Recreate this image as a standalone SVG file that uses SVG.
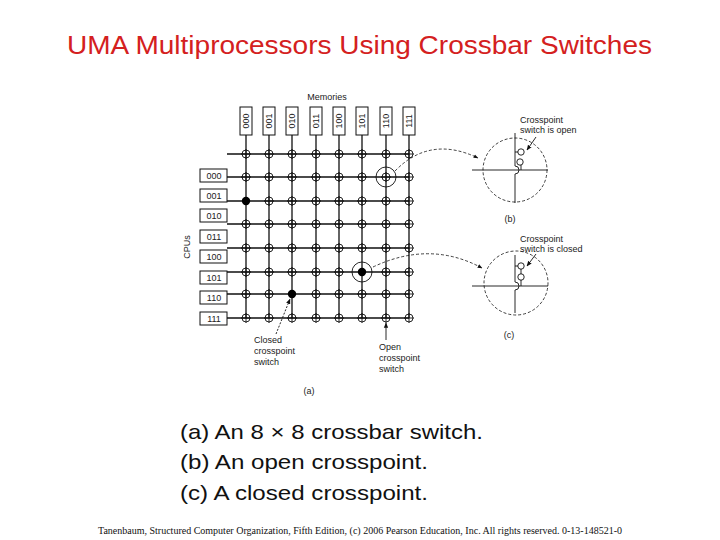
<svg xmlns="http://www.w3.org/2000/svg" width="720" height="540" viewBox="0 0 720 540">
<style>
.s{font-family:"Liberation Sans",Arial,sans-serif;font-size:9px;fill:#222}
.l{stroke:#111;stroke-width:1.3;fill:none}
.b{stroke:#111;stroke-width:1;fill:#fff}
.x{stroke:#111;stroke-width:0.9;fill:none}
.d{stroke:#111;stroke-width:0.8;fill:none;stroke-dasharray:3,2}
</style>
<defs>
<marker id="a" viewBox="0 0 10 10" refX="9" refY="5" markerWidth="6" markerHeight="6" orient="auto"><path d="M0,1L10,5L0,9z" fill="#111"/></marker>
<g id="cp"><circle r="4" class="x" fill="#fff"/><path d="M-5,0H5M0,-5V5" class="x"/></g>
</defs>
<rect width="720" height="540" fill="#fff"/>
<text x="67" y="54" textLength="585" lengthAdjust="spacingAndGlyphs" font-family="Liberation Sans,Arial,sans-serif" font-size="25" fill="#d42020">UMA Multiprocessors Using Crossbar Switches</text>
<g id="memories">
<text class="s" x="327" y="100" text-anchor="middle">Memories</text>
<g class="b">
<rect x="240" y="107" width="12" height="28"/><rect x="263" y="107" width="12" height="28"/><rect x="286" y="107" width="12" height="28"/><rect x="310" y="107" width="12" height="28"/><rect x="333" y="107" width="12" height="28"/><rect x="356" y="107" width="12" height="28"/><rect x="380" y="107" width="12" height="28"/><rect x="403" y="107" width="12" height="28"/>
</g>
<g class="s" text-anchor="middle">
<text transform="translate(249,121) rotate(-90)">000</text><text transform="translate(272,121) rotate(-90)">001</text><text transform="translate(295,121) rotate(-90)">010</text><text transform="translate(319,121) rotate(-90)">011</text><text transform="translate(342,121) rotate(-90)">100</text><text transform="translate(365,121) rotate(-90)">101</text><text transform="translate(389,121) rotate(-90)">110</text><text transform="translate(412,121) rotate(-90)">111</text>
</g>
</g>
<g id="cpus">
<text class="s" transform="translate(190,247) rotate(-90)" text-anchor="middle">CPUs</text>
<g class="b">
<rect x="200" y="169" width="27" height="13"/><rect x="200" y="189" width="27" height="13"/><rect x="200" y="209" width="27" height="13"/><rect x="200" y="230" width="27" height="13"/><rect x="200" y="250" width="27" height="13"/><rect x="200" y="271" width="27" height="13"/><rect x="200" y="291" width="27" height="13"/><rect x="200" y="312" width="27" height="13"/>
</g>
<g class="s" text-anchor="middle">
<text x="214" y="179">000</text><text x="214" y="199">001</text><text x="214" y="219">010</text><text x="214" y="240">011</text><text x="214" y="260">100</text><text x="214" y="281">101</text><text x="214" y="301">110</text><text x="214" y="322">111</text>
</g>
</g>
<g id="connectors">
<path class="l" d="M227,154H409M227,177H409M227,201H409M227,224H409M227,248H409M227,272H409M227,294H409M227,318H409"/>
<path class="l" d="M246,135V318M269,135V318M292,135V318M316,135V318M339,135V318M362,135V318M386,135V318M409,135V318"/>
<path class="d" d="M395,171 Q430,135 478,158" marker-end="url(#a)"/>
<path class="d" d="M373,267 Q430,240 482,268" marker-end="url(#a)"/>
<path class="x" d="M276,334 L290,299" stroke-dasharray="2,1.5" marker-end="url(#a)"/>
<path class="x" d="M386,340 V323" marker-end="url(#a)"/>
<path class="x" d="M536,137 L527,150" marker-end="url(#a)"/>
<path class="x" d="M536,254 L527,266" marker-end="url(#a)"/>
</g>
<g id="crosspoints">
<use href="#cp" x="246" y="154"/><use href="#cp" x="269" y="154"/><use href="#cp" x="292" y="154"/><use href="#cp" x="316" y="154"/><use href="#cp" x="339" y="154"/><use href="#cp" x="362" y="154"/><use href="#cp" x="386" y="154"/><use href="#cp" x="409" y="154"/>
<use href="#cp" x="246" y="177"/><use href="#cp" x="269" y="177"/><use href="#cp" x="292" y="177"/><use href="#cp" x="316" y="177"/><use href="#cp" x="339" y="177"/><use href="#cp" x="362" y="177"/><use href="#cp" x="386" y="177"/><use href="#cp" x="409" y="177"/>
<use href="#cp" x="269" y="201"/><use href="#cp" x="292" y="201"/><use href="#cp" x="316" y="201"/><use href="#cp" x="339" y="201"/><use href="#cp" x="362" y="201"/><use href="#cp" x="386" y="201"/><use href="#cp" x="409" y="201"/>
<use href="#cp" x="246" y="224"/><use href="#cp" x="269" y="224"/><use href="#cp" x="292" y="224"/><use href="#cp" x="316" y="224"/><use href="#cp" x="339" y="224"/><use href="#cp" x="362" y="224"/><use href="#cp" x="386" y="224"/><use href="#cp" x="409" y="224"/>
<use href="#cp" x="246" y="248"/><use href="#cp" x="269" y="248"/><use href="#cp" x="292" y="248"/><use href="#cp" x="316" y="248"/><use href="#cp" x="339" y="248"/><use href="#cp" x="362" y="248"/><use href="#cp" x="386" y="248"/><use href="#cp" x="409" y="248"/>
<use href="#cp" x="246" y="272"/><use href="#cp" x="269" y="272"/><use href="#cp" x="292" y="272"/><use href="#cp" x="316" y="272"/><use href="#cp" x="339" y="272"/><use href="#cp" x="386" y="272"/><use href="#cp" x="409" y="272"/>
<use href="#cp" x="246" y="294"/><use href="#cp" x="269" y="294"/><use href="#cp" x="316" y="294"/><use href="#cp" x="339" y="294"/><use href="#cp" x="362" y="294"/><use href="#cp" x="386" y="294"/><use href="#cp" x="409" y="294"/>
<use href="#cp" x="246" y="318"/><use href="#cp" x="269" y="318"/><use href="#cp" x="292" y="318"/><use href="#cp" x="316" y="318"/><use href="#cp" x="339" y="318"/><use href="#cp" x="362" y="318"/><use href="#cp" x="386" y="318"/><use href="#cp" x="409" y="318"/>
<circle cx="246" cy="201" r="4.2" fill="#000"/><circle cx="292" cy="294" r="4.2" fill="#000"/><circle cx="362" cy="272" r="4.2" fill="#000"/>
<circle cx="362" cy="272" r="10" class="x" stroke-width="0.7"/><circle cx="386" cy="177" r="10" class="x" stroke-width="0.7"/>
</g>
<g class="s">
<text x="254" y="343">Closed</text><text x="254" y="354">crosspoint</text><text x="254" y="365">switch</text>
<text x="379" y="350">Open</text><text x="379" y="361">crosspoint</text><text x="379" y="372">switch</text>
<text x="309" y="394" text-anchor="middle">(a)</text>
</g>
<g id="open-crosspoint">
<circle cx="515" cy="170" r="32" class="d"/>
<path class="x" d="M472,170H548M515,133V166a4,4 0 0 1 0,8V203M515,152H518M521,165V170"/>
<circle cx="521" cy="152" r="3.2" class="x" fill="#fff"/><circle cx="520" cy="162" r="3.2" class="x" fill="#fff"/>
<text class="s" x="520" y="123">Crosspoint</text><text class="s" x="520" y="133">switch is open</text>
<text class="s" x="510" y="222" text-anchor="middle">(b)</text>
</g>
<g id="closed-crosspoint">
<circle cx="516" cy="283" r="32" class="d"/>
<path class="x" d="M472,286H548M515,255V282a4,4 0 0 1 0,8V313M515,266H518M521,269V274M521,280V286"/>
<circle cx="521" cy="266" r="3.2" class="x" fill="#fff"/><circle cx="521" cy="277" r="3.2" class="x" fill="#fff"/>
<text class="s" x="520" y="242">Crosspoint</text><text class="s" x="520" y="252">switch is closed</text>
<text class="s" x="509" y="338" text-anchor="middle">(c)</text>
</g>
<g font-family="Liberation Sans,Arial,sans-serif" font-size="21" fill="#111">
<text x="180" y="439" textLength="303" lengthAdjust="spacingAndGlyphs">(a) An 8 × 8 crossbar switch.</text>
<text x="180" y="469" textLength="248" lengthAdjust="spacingAndGlyphs">(b) An open crosspoint.</text>
<text x="180" y="500" textLength="248" lengthAdjust="spacingAndGlyphs">(c) A closed crosspoint.</text>
</g>
<text x="360" y="534" text-anchor="middle" font-family="Liberation Serif,Times New Roman,serif" font-size="10" fill="#111">Tanenbaum, Structured Computer Organization, Fifth Edition, (c) 2006 Pearson Education, Inc. All rights reserved. 0-13-148521-0</text>
</svg>
